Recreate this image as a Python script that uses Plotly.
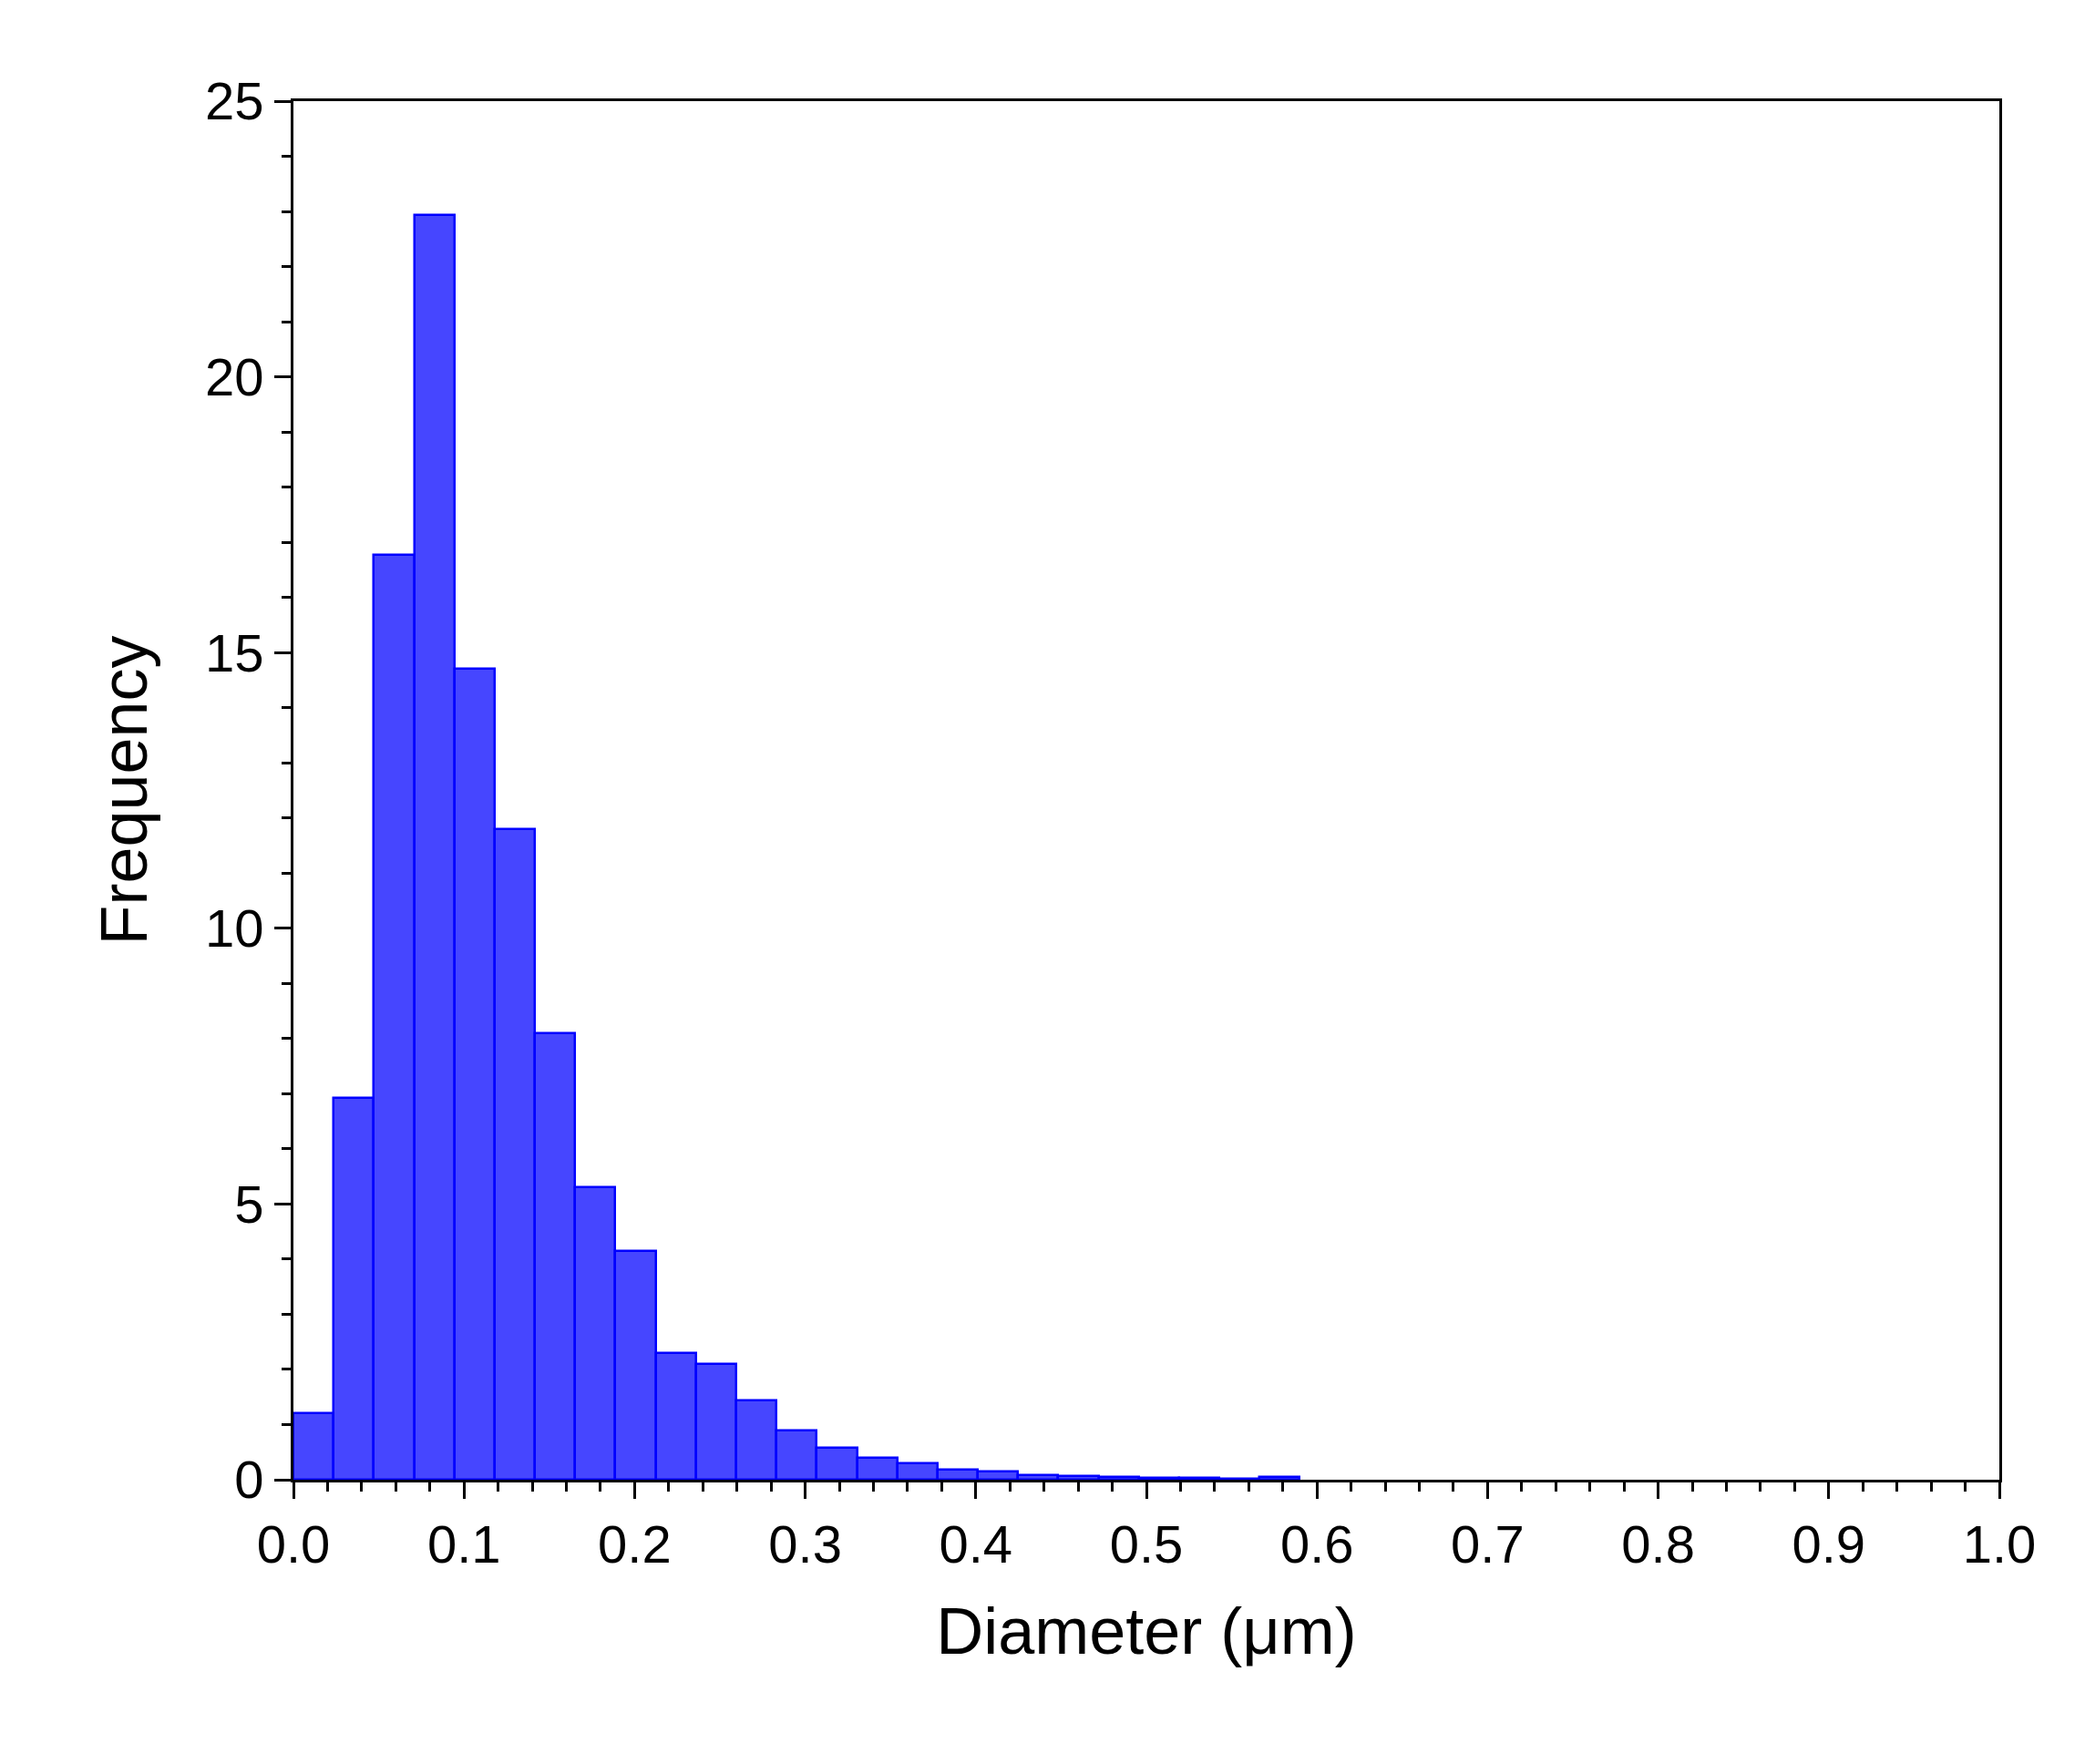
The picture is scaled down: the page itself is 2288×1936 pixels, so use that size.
import plotly.graph_objects as go
import numpy as np

bin_width = 0.0236
freq = [1.2, 6.93, 16.77, 22.93, 14.7, 11.8, 8.1, 5.3, 4.14, 2.29, 2.1, 1.44, 0.9,
        0.58, 0.4, 0.3, 0.18, 0.15, 0.08, 0.06, 0.05, 0.04, 0.03, 0.02, 0.05]
centers = [(i + 0.5) * bin_width for i in range(len(freq))]

fig = go.Figure(go.Bar(x=centers, y=freq, width=bin_width,
                       marker=dict(color="rgba(70,70,255,1)", line=dict(color="#0000ff", width=2.5))))
ax = dict(showline=True, linecolor="black", linewidth=3, mirror=True, ticks="outside",
          ticklen=18, tickwidth=3, tickcolor="black", showgrid=False, zeroline=False,
          tickfont=dict(family="Liberation Sans, Arial", size=58, color="black"),
          minor=dict(ticks="outside", ticklen=10, tickwidth=3, tickcolor="black"))
fig.update_xaxes(**ax, range=[0, 1], tick0=0, dtick=0.1, tickformat=".1f",
                 title=dict(text="Diameter (μm)", font=dict(family="Liberation Sans, Arial", size=72, color="black"), standoff=40))
fig.update_yaxes(**ax, range=[0, 25], tick0=0, dtick=5,
                 title=dict(text="Frequency", font=dict(family="Liberation Sans, Arial", size=72, color="black"), standoff=40))
fig.update_layout(width=2288, height=1936, plot_bgcolor="white", paper_bgcolor="white",
                  margin=dict(l=314, r=102, t=103, b=320), bargap=0, showlegend=False)
fig.write_html("out.html")
